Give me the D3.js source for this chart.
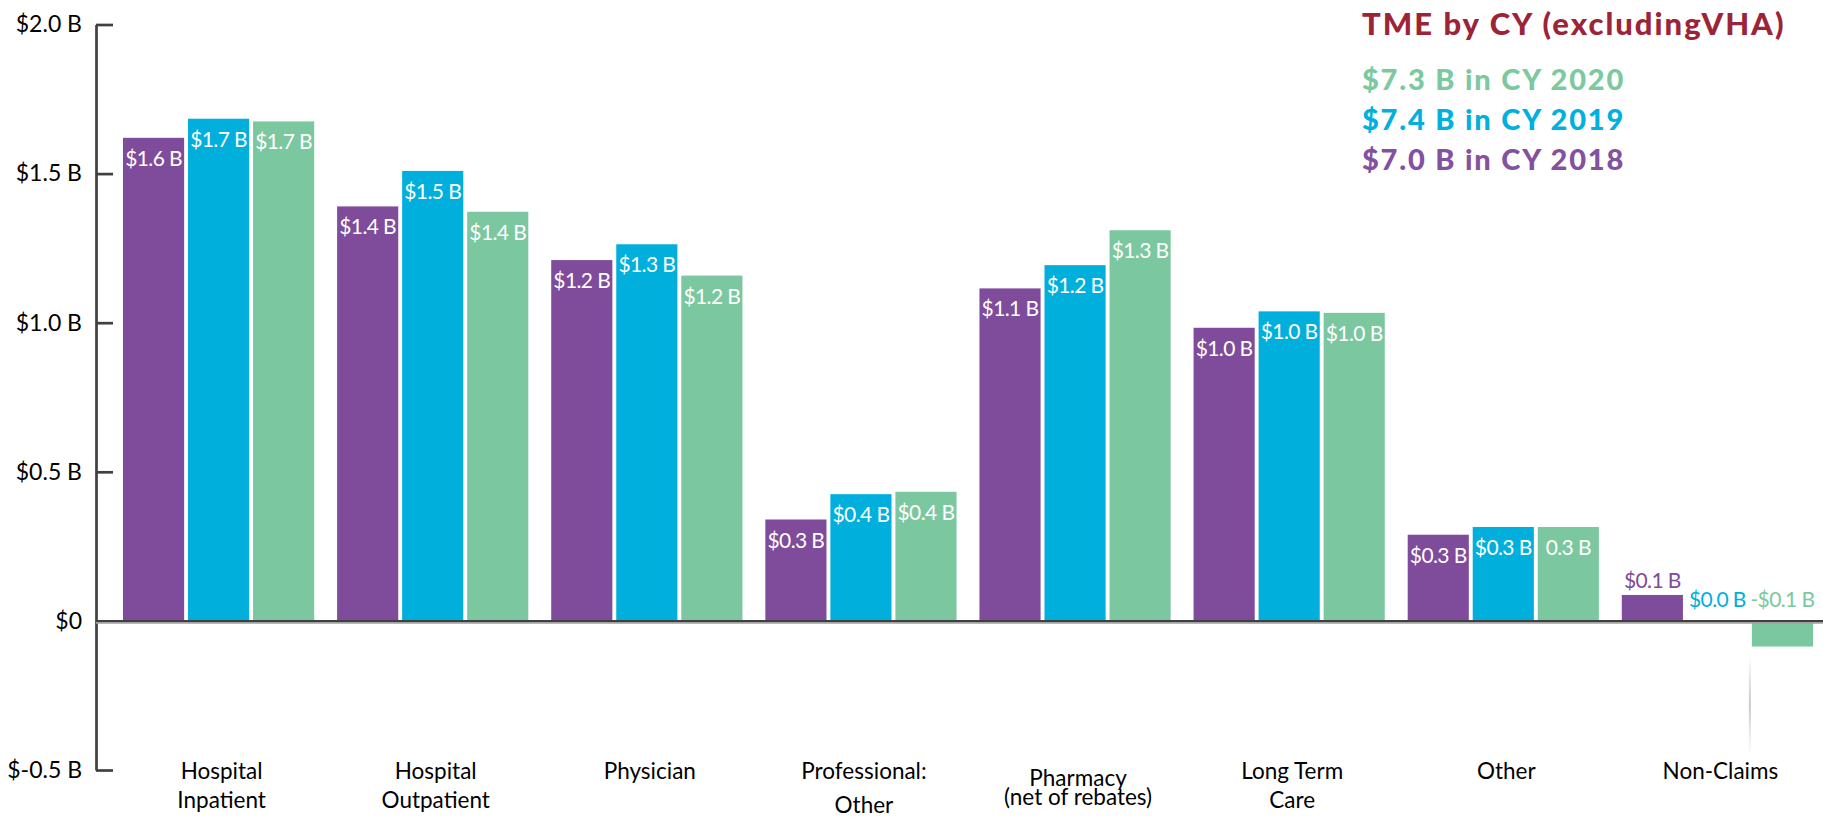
<!DOCTYPE html>
<html>
<head>
<meta charset="utf-8">
<script src="https://cdn.jsdelivr.net/npm/d3@7"></script>
<style>
  body { margin: 0; background: #fff; }
  svg { display: block; }
  text { font-family: Lato, "Open Sans", sans-serif; }
</style>
</head>
<body>
<svg id="chart" width="1823" height="817"></svg>
<script>
// categories along the x axis (label lines)
const categories = ["Hospital Inpatient", "Hospital Outpatient", "Physician", "Professional: Other",
  "Pharmacy (net of rebates)", "Long Term Care", "Other", "Non-Claims"];
const categoryLines = [["Hospital", "Inpatient"], ["Hospital", "Outpatient"], ["Physician"],
  ["Professional:", "Other"], ["Pharmacy", "(net of rebates)"], ["Long Term", "Care"], ["Other"], ["Non-Claims"]];

const series = ["CY 2018", "CY 2019", "CY 2020"];

// spending in $ billions
const values2018 = [1.62, 1.39, 1.21, 0.34, 1.115, 0.983, 0.289, 0.087];
const values2019 = [1.684, 1.509, 1.263, 0.425, 1.193, 1.038, 0.315, 0.0];
const values2020 = [1.675, 1.372, 1.158, 0.433, 1.31, 1.033, 0.315, -0.086];

// data labels as printed on the chart
const labels2018 = ["$1.6 B", "$1.4 B", "$1.2 B", "$0.3 B", "$1.1 B", "$1.0 B", "$0.3 B", "$0.1 B"];
const labels2019 = ["$1.7 B", "$1.5 B", "$1.3 B", "$0.4 B", "$1.2 B", "$1.0 B", "$0.3 B", "$0.0 B"];
const labels2020 = ["$1.7 B", "$1.4 B", "$1.2 B", "$0.4 B", "$1.3 B", "$1.0 B", "0.3 B", "-$0.1 B"];

// y axis ticks
const tickValues = [-0.5, 0, 0.5, 1.0, 1.5, 2.0];
const tickLabels = ["$-0.5 B", "$0", "$0.5 B", "$1.0 B", "$1.5 B", "$2.0 B"];

// title and yearly totals
const titleText = "TME by CY (excludingVHA)";
const totals = ["$7.3 B in CY 2020", "$7.4 B in CY 2019", "$7.0 B in CY 2018"];

const barColors = ["#7f4b9b", "#00afdc", "#7bc8a0"];
const totalColors = ["#7cc9a0", "#00b0de", "#8450a0"];
const AXIS = "#404040";

const svg = d3.select("#chart");

// scales
var y = d3.scaleLinear().domain([-0.5, 2.0]).range([770, 24.5]);
var x0 = d3.scaleBand().domain(categories).range([123, 1813]).paddingInner(0.107).paddingOuter(0);
var x1 = d3.scaleBand().domain(series).range([0, x0.bandwidth()]).paddingInner(0.06);

var rows = categories.map(function (c, i) {
  return {
    cat: c,
    bars: [
      { s: series[0], v: values2018[i], label: labels2018[i], k: 0 },
      { s: series[1], v: values2019[i], label: labels2019[i], k: 1 },
      { s: series[2], v: values2020[i], label: labels2020[i], k: 2 }
    ]
  };
});

// bars
var group = svg.append("g")
  .selectAll("g")
  .data(rows)
  .join("g")
  .attr("transform", function (d) { return "translate(" + x0(d.cat) + ",0)"; });

group.selectAll("rect")
  .data(function (d) { return d.bars; })
  .join("rect")
  .attr("x", function (d) { return x1(d.s); })
  .attr("y", function (d) { return y(Math.max(d.v, 0)); })
  .attr("width", x1.bandwidth())
  .attr("height", function (d) { return Math.abs(y(d.v) - y(0)); })
  .attr("fill", function (d) { return barColors[d.k]; });

// faint shadow line under the negative bar
var grad = svg.append("defs").append("linearGradient")
  .attr("id", "fade").attr("x1", 0).attr("y1", 0).attr("x2", 0).attr("y2", 1);
grad.append("stop").attr("offset", 0).attr("stop-color", "#fff");
grad.append("stop").attr("offset", 0.5).attr("stop-color", "#c8c8c8");
grad.append("stop").attr("offset", 1).attr("stop-color", "#fff");
var negX = x0(categories[7]) + x1(series[2]);
svg.append("rect")
  .attr("x", negX - 3).attr("y", y(values2020[7]) + 8)
  .attr("width", 2).attr("height", 100)
  .attr("fill", "url(#fade)");

// value labels: inside the bar top when there is room, above the axis otherwise
group.selectAll("text")
  .data(function (d) { return d.bars; })
  .join("text")
  .attr("x", function (d) { return x1(d.s) + x1.bandwidth() / 2; })
  .attr("y", function (d) {
    var h = Math.abs(y(d.v) - y(0));
    if (h < 40) return Math.min(y(d.v) - 7, y(0) - 14);
    return y(d.v) + 28;
  })
  .attr("text-anchor", "middle")
  .style("font-size", "21px")
  .style("letter-spacing", "-0.6px")
  .attr("fill", function (d) {
    return Math.abs(y(d.v) - y(0)) < 40 ? barColors[d.k] : "#fff";
  })
  .text(function (d) { return d.label; });

// y axis, ticks pointing into the plot
var yAxis = d3.axisLeft(y)
  .tickValues(tickValues)
  .tickFormat(function (d, i) { return tickLabels[i]; })
  .tickSize(-17)
  .tickSizeOuter(0)
  .tickPadding(14);

var ax = svg.append("g")
  .attr("transform", "translate(96,0)")
  .call(yAxis);
ax.select(".domain").attr("stroke", AXIS).attr("stroke-width", 2.7);
ax.selectAll(".tick line").attr("stroke", AXIS).attr("stroke-width", 2.7);
ax.selectAll(".tick text")
  .attr("fill", "#000")
  .style("font-size", "23px")
  .style("font-family", "Lato, sans-serif");

// zero baseline
svg.append("line")
  .attr("x1", 96).attr("x2", 1823)
  .attr("y1", y(0) + 2).attr("y2", y(0) + 2)
  .attr("stroke", "#a0a0a0").attr("stroke-width", 1.6);
svg.append("line")
  .attr("x1", 96).attr("x2", 1823)
  .attr("y1", y(0)).attr("y2", y(0))
  .attr("stroke", AXIS).attr("stroke-width", 2);

// category labels
const lineTop = [779, 779, 779, 779, 786, 779, 779, 779];
const lineGap = [29, 29, 29, 34, 19, 29, 29, 29];
svg.append("g")
  .selectAll("text")
  .data(categories)
  .join("text")
  .attr("text-anchor", "middle")
  .attr("fill", "#000")
  .style("font-size", "22.5px")
  .each(function (c, i) {
    var cx = x0(c) + x0.bandwidth() / 2 + 3;
    d3.select(this).selectAll("tspan")
      .data(categoryLines[i])
      .join("tspan")
      .attr("x", cx)
      .attr("y", function (d, j) { return lineTop[i] + j * lineGap[i]; })
      .text(function (d) { return d; });
  });

// title and yearly totals
svg.append("text")
  .attr("x", 1362).attr("y", 35)
  .attr("fill", "#9c2438")
  .style("font-size", "31px")
  .style("font-weight", "900")
  .style("letter-spacing", "2px")
  .text(titleText);

svg.append("g")
  .selectAll("text")
  .data(totals)
  .join("text")
  .attr("x", 1362)
  .attr("y", function (d, i) { return [90, 130, 170][i]; })
  .attr("fill", function (d, i) { return totalColors[i]; })
  .style("font-size", "29px")
  .style("font-weight", "900")
  .style("letter-spacing", "1.8px")
  .text(function (d) { return d; });
</script>
</body>
</html>
